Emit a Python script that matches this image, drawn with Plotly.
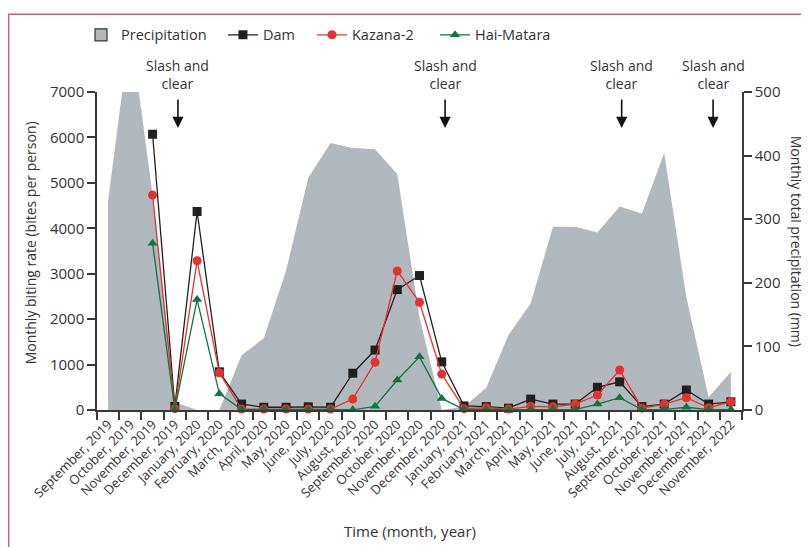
import plotly.graph_objects as go

months = [
    "September, 2019", "October, 2019", "November, 2019", "December, 2019",
    "January, 2020", "February, 2020", "March, 2020", "April, 2020", "May, 2020",
    "June, 2020", "July, 2020", "August, 2020", "September, 2020", "October, 2020",
    "November, 2020", "December, 2020", "January, 2021", "February, 2021",
    "March, 2021", "April, 2021", "May, 2021", "June, 2021", "July, 2021",
    "August, 2021", "September, 2021", "October, 2021", "November, 2021",
    "December, 2021", "November, 2022",
]

precipitation = [329, 600, 338, 12, 0, 0, 86, 113, 219, 365, 420, 412, 410, 371,
                 146, 0, 5, 35, 118, 168, 288, 288, 279, 320, 309, 404, 177, 20, 60]

dam = [None, None, 6070, 80, 4370, 840, 130, 60, 60, 70, 60, 810, 1320, 2650,
       2960, 1060, 90, 75, 40, 240, 130, 130, 500, 620, 75, 130, 440, 130, 180]

kazana = [None, None, 4730, 30, 3285, 820, 20, 20, 20, 20, 20, 240, 1050, 3060,
          2370, 790, 30, 50, 20, 80, 70, 130, 330, 880, 40, 130, 270, 50, 180]

hai_matara = [None, None, 3670, 10, 2430, 360, 10, 10, 10, 10, 10, 5, 80, 660,
              1170, 255, 10, 10, 10, 10, 20, 10, 130, 270, 10, 10, 60, 10, 10]

slash_clear_pos = [3.14, 15.15, 23.09, 27.2]

FONT = "Open Sans"
AX = "#3a3a3a"
TXT = "#333333"
GREY = "#b1b8be"

fig = go.Figure()

# precipitation on the primary (drawn first, underneath) axis, shown on the right
fig.add_trace(go.Scatter(
    x=months, y=precipitation, yaxis="y", mode="none", fill="tozeroy",
    fillcolor=GREY, showlegend=False, hoverinfo="x+y", name="Precipitation",
))
fig.add_trace(go.Bar(
    x=[months[0]], y=[None], yaxis="y", name="Precipitation", legend="legend",
    marker=dict(color=GREY, line=dict(color="#333333", width=1.2)),
))
# biting rates on the overlaying axis, shown on the left
fig.add_trace(go.Scatter(
    x=months, y=dam, yaxis="y2", name="Dam", mode="lines+markers", cliponaxis=False,
    legend="legend2", line=dict(color="#231f20", width=1.3),
    marker=dict(symbol="square", size=9, color="#231f20"),
))
fig.add_trace(go.Scatter(
    x=months, y=kazana, yaxis="y2", name="Kazana-2", mode="lines+markers",
    cliponaxis=False, legend="legend3", line=dict(color="#e8302c", width=1.3),
    marker=dict(symbol="circle", size=9, color="#e8302c"),
))
fig.add_trace(go.Scatter(
    x=months, y=hai_matara, yaxis="y2", name="Hai-Matara", mode="lines+markers",
    cliponaxis=False, legend="legend4", line=dict(color="#0b773c", width=1.3),
    marker=dict(symbol="triangle-up", size=9, color="#0b773c"),
))

annotations = []
for xp in slash_clear_pos:
    annotations.append(dict(
        x=xp, y=1.056, xref="x", yref="paper", text="Slash and<br>clear",
        showarrow=False, font=dict(family=FONT, size=14, color=TXT),
        xanchor="center", yanchor="middle", align="center",
    ))
    annotations.append(dict(
        x=xp, y=0.887, xref="x", yref="paper", text="", showarrow=True,
        ax=0, ay=-30, axref="pixel", ayref="pixel",
        arrowhead=2, arrowsize=1.4, arrowwidth=1.6, arrowcolor="#111111",
    ))

annotations += [
    dict(x=-0.104, y=0.527, xref="paper", yref="paper",
         xanchor="center", yanchor="middle",
         text="Monthly biting rate (bites per person)", textangle=-90,
         showarrow=False, font=dict(family=FONT, size=14, color=TXT)),
    dict(x=1.085, y=0.53, xref="paper", yref="paper",
         xanchor="center", yanchor="middle",
         text="Monthly total precipitation (mm)", textangle=90,
         showarrow=False, font=dict(family=FONT, size=14, color=TXT)),
    dict(x=0.485, y=-0.379, xref="paper", yref="paper",
         xanchor="center", yanchor="middle",
         text="Time (month, year)",
         showarrow=False, font=dict(family=FONT, size=15, color=TXT)),
]


def leg(xp):
    return dict(orientation="h", x=xp, y=1.176, xanchor="left", yanchor="middle",
                font=dict(family=FONT, size=14.5, color=TXT),
                bgcolor="rgba(0,0,0,0)")


fig.update_layout(
    width=809, height=547,
    margin=dict(l=89, r=75, t=83, b=145),
    paper_bgcolor="white", plot_bgcolor="white",
    font=dict(family=FONT, size=14, color=TXT),
    showlegend=True,
    legend=leg(-0.0248),
    legend2=leg(0.1953),
    legend3=leg(0.3333),
    legend4=leg(0.524),
    xaxis=dict(
        type="category", categoryorder="array", categoryarray=months,
        tickson="boundaries", ticks="outside", ticklen=8, tickwidth=1.5,
        tickcolor=AX, showline=True, linecolor=AX, linewidth=1.5,
        tickangle=-45, tickfont=dict(family=FONT, size=13, color=TXT),
        showgrid=False, zeroline=False, range=[-0.5, 28.5], automargin=False,
    ),
    yaxis=dict(
        range=[0, 500], dtick=100, tick0=0, side="right",
        ticks="outside", ticklen=8, tickwidth=1.5, tickcolor=AX, showline=True,
        linecolor=AX, linewidth=1.5, showgrid=False, zeroline=False,
        tickfont=dict(family=FONT, size=15, color=TXT), automargin=False,
    ),
    yaxis2=dict(
        range=[0, 7000], dtick=1000, tick0=0, overlaying="y", side="left",
        ticks="outside", ticklen=8, tickwidth=1.5, tickcolor=AX, showline=True,
        linecolor=AX, linewidth=1.5, showgrid=False, zeroline=False,
        tickfont=dict(family=FONT, size=15, color=TXT), automargin=False,
    ),
    annotations=annotations,
    shapes=[dict(type="rect", xref="paper", yref="paper",
                 x0=-0.137, x1=1.3, y0=-0.7, y1=1.2445,
                 line=dict(color="#d6587c", width=1.5), fillcolor="rgba(0,0,0,0)",
                 layer="below")],
)

fig.write_html("out.html")
